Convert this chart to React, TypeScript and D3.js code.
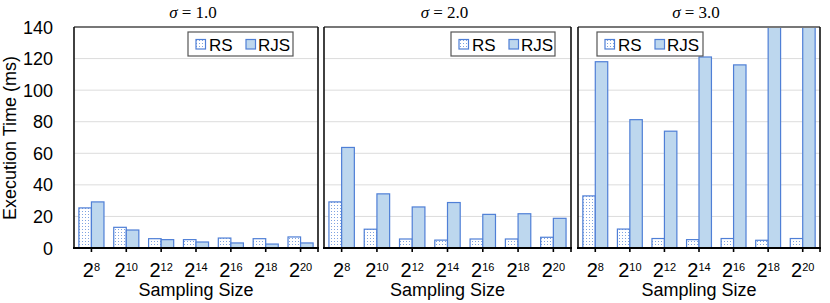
import React from 'react'
import * as d3 from 'd3'

// sampling sizes (exponents of 2)
const exponents = [8, 10, 12, 14, 16, 18, 20]
const sigmas = ['1.0', '2.0', '3.0']
const series = ['RS', 'RJS']

// values, in ms
const rsValues = [
  [25.4, 13.1, 5.9, 5.3, 6.3, 5.9, 7.0],
  [29.2, 11.9, 5.7, 5.0, 5.7, 5.7, 6.8],
  [33.0, 12.0, 6.0, 5.3, 6.0, 4.9, 6.0],
]
const rjsValues = [
  [29.2, 11.4, 5.3, 3.8, 3.2, 2.5, 3.2],
  [63.7, 34.3, 26.0, 28.8, 21.3, 21.7, 18.8],
  [118, 81.3, 74, 121, 116, 150, 150],
]
const yTicks = [0, 20, 40, 60, 80, 100, 120, 140]

const W = 830
const H = 303
const top = 27
const bottom = 248
const panels = [
  { x0: 74, x1: 318, legend: [188, 293] },
  { x0: 324, x1: 571, legend: [451, 555] },
  { x0: 578, x1: 820, legend: [597, 703] },
]

const stroke = '#4f7fd6'
const rjsFill = '#bdd7ee'
const sans = '"Liberation Sans", Arial, sans-serif'
const serif = '"Liberation Serif", "Times New Roman", serif'

const y = d3.scaleLinear().domain([0, 140]).range([bottom, top])

const Panel: React.FC<{ idx: number }> = ({ idx }) => {
  const p = panels[idx]
  const x = d3
    .scaleBand<number>()
    .domain(exponents)
    .range([p.x0, p.x1])
    .paddingInner(0.28)
    .paddingOuter(0.14)
  const inner = d3.scaleBand<string>().domain(series).range([0, x.bandwidth()])
  const cx = (p.x0 + p.x1) / 2
  const [lx0, lx1] = p.legend
  return (
    <g>
      <defs>
        <clipPath id={`clip${idx}`}>
          <rect x={p.x0} y={top} width={p.x1 - p.x0} height={bottom - top} />
        </clipPath>
      </defs>
      {/* grid */}
      {yTicks.slice(1, -1).map(t => (
        <line key={t} x1={p.x0} x2={p.x1} y1={y(t)} y2={y(t)} stroke="#dcdcdc" strokeWidth={1} />
      ))}
      {/* bars */}
      <g clipPath={`url(#clip${idx})`}>
        {exponents.map((e, i) => {
          const gx = x(e) as number
          return (
            <g key={e}>
              <rect
                x={gx + (inner('RS') as number)}
                y={y(rsValues[idx][i])}
                width={inner.bandwidth()}
                height={bottom - y(rsValues[idx][i])}
                fill="url(#dots)"
                stroke={stroke}
                strokeWidth={1.2}
              />
              <rect
                x={gx + (inner('RJS') as number)}
                y={y(rjsValues[idx][i])}
                width={inner.bandwidth()}
                height={bottom - y(rjsValues[idx][i])}
                fill={rjsFill}
                stroke={stroke}
                strokeWidth={1.2}
              />
            </g>
          )
        })}
      </g>
      {/* frame */}
      <line x1={p.x0} x2={p.x1} y1={top} y2={top} stroke="#777" strokeWidth={1.8} />
      <line x1={p.x0} x2={p.x0} y1={top} y2={bottom} stroke="#111" strokeWidth={1.6} />
      <line x1={p.x1} x2={p.x1} y1={top} y2={bottom} stroke="#111" strokeWidth={1.6} />
      <line x1={p.x0 - 1} x2={p.x1 + 1} y1={bottom} y2={bottom} stroke="#000" strokeWidth={2} />
      {exponents.map(e => {
        const tx = (x(e) as number) + x.bandwidth() / 2
        return <line key={e} x1={tx} x2={tx} y1={bottom} y2={bottom + 4} stroke="#000" strokeWidth={1.6} />
      })}
      <line x1={p.x1} x2={p.x1} y1={bottom} y2={bottom + 4} stroke="#000" strokeWidth={1.6} />
      {/* x tick labels */}
      {exponents.map(e => {
        const tx = (x(e) as number) + x.bandwidth() / 2
        return (
          <text key={e} x={tx} y={277} textAnchor="middle" fontFamily={sans} fontSize={20} fill="#000">
            2
            <tspan fontSize={11} dy={-6.5}>
              {e}
            </tspan>
          </text>
        )
      })}
      <text x={cx} y={296} textAnchor="middle" fontFamily={sans} fontSize={18} fill="#000">
        Sampling Size
      </text>
      {/* title */}
      <text x={cx - 3} y={18} textAnchor="middle" fontFamily={serif} fontSize={17} fill="#000">
        <tspan fontStyle="italic">σ</tspan> = {sigmas[idx]}
      </text>
      {/* legend */}
      <rect x={lx0} y={32} width={lx1 - lx0} height={24} fill="#fff" stroke="#555" strokeWidth={1.2} />
      <rect x={lx0 + 8} y={39.5} width={9.5} height={9.5} fill="url(#dots)" stroke={stroke} strokeWidth={1.2} />
      <text x={lx0 + 21} y={50.5} fontFamily={sans} fontSize={17} fill="#000">
        RS
      </text>
      <rect x={lx0 + 58} y={39.5} width={9.5} height={9.5} fill={rjsFill} stroke={stroke} strokeWidth={1.2} />
      <text x={lx0 + 70} y={50.5} fontFamily={sans} fontSize={17} fill="#000">
        RJS
      </text>
    </g>
  )
}

const App: React.FC = () => {
  return (
    <div style={{ position: 'absolute', left: 0, top: 0 }}>
      <svg width={W} height={H} style={{ display: 'block', background: '#fff' }}>
        <defs>
          <pattern id="dots" width={3} height={3} patternUnits="userSpaceOnUse">
            <rect width={3} height={3} fill="#fff" />
            <rect x={1} y={1} width={1} height={1} fill="#7fa3e0" />
          </pattern>
        </defs>
        {/* y axis labels */}
        {yTicks.map(t => (
          <text
            key={t}
            x={53}
            y={y(t) + 6.5}
            textAnchor="end"
            fontFamily={sans}
            fontSize={18}
            fill="#000"
          >
            {t}
          </text>
        ))}
        <text
          transform={`translate(16,138) rotate(-90)`}
          textAnchor="middle"
          fontFamily={sans}
          fontSize={18}
          fill="#000"
        >
          Execution Time (ms)
        </text>
        {sigmas.map((s, i) => (
          <Panel key={s} idx={i} />
        ))}
      </svg>
    </div>
  )
}

export default App
